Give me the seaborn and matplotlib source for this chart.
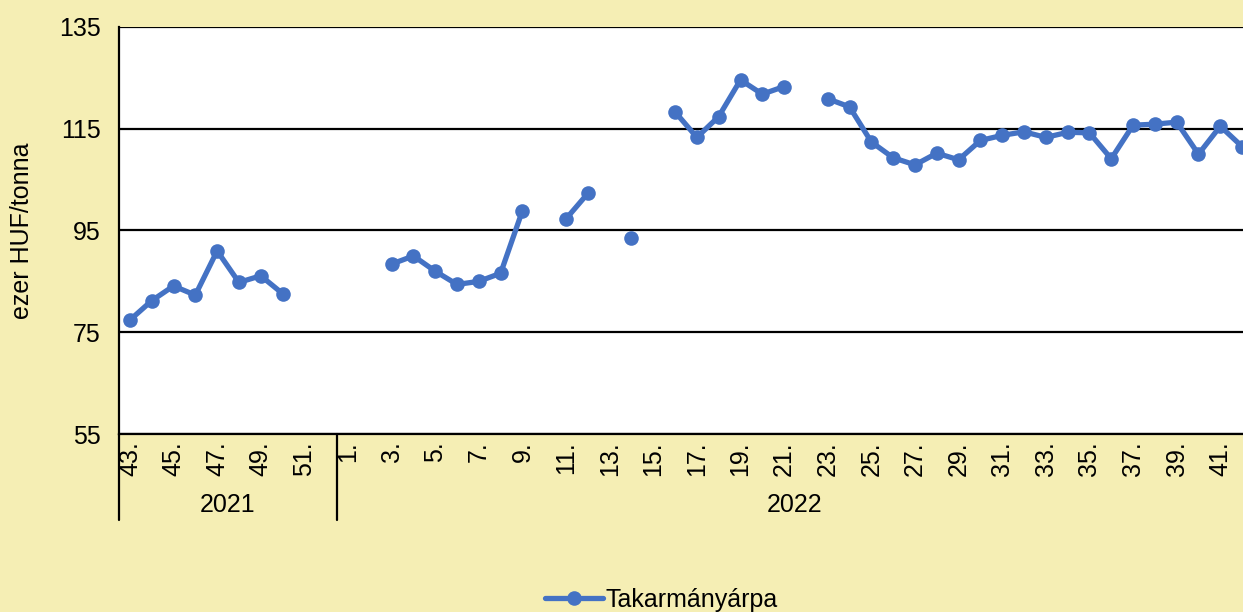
"""Takarmányárpa weekly price chart, 2021/43 - 2022/42."""
import matplotlib
matplotlib.use("Agg")
import matplotlib.pyplot as plt
import matplotlib.transforms as mtransforms
from matplotlib.lines import Line2D
import pandas as pd
import seaborn as sns

years = [2021] * 10 + [2022] * 42
weeks = list(range(43, 53)) + list(range(1, 43))
# ezer HUF/tonna, None = no quote that week
prices = [77.4, 81.2, 84.1, 82.3, 91.0, 84.8, 86.1, 82.6, None, None,
          None, None, 88.4, 90.0, 87.0, 84.4, 85.0, 86.6, 98.9, None,
          97.3, 102.3, None, 93.5, None, 118.3, 113.3, 117.4, 124.6, 121.8,
          123.3, None, 120.9, 119.3, 112.4, 109.3, 107.9, 110.2, 108.9, 112.7,
          113.7, 114.4, 113.3, 114.3, 114.2, 109.1, 115.7, 115.9, 116.3, 110.0,
          115.5, 111.5]
series_name = "Takarmányárpa"
y_ticks = [55, 75, 95, 115, 135]

BG = "#F5EEB4"
BLUE = "#4472C4"

sns.set_style("white")
plt.rcParams["font.family"] = ["Liberation Sans", "DejaVu Sans"]
plt.rcParams["font.size"] = 18
for key in ["text.color", "axes.labelcolor", "xtick.color", "ytick.color"]:
    plt.rcParams[key] = "black"

df = pd.DataFrame({"year": years, "week": weeks, "price": prices})
df["pos"] = range(len(df))
# break the line wherever a week is missing
df["seg"] = df["price"].isna().cumsum()
valid = df.dropna(subset=["price"])

fig = plt.figure(figsize=(12.43, 6.12), dpi=100, facecolor=BG)
ax = fig.add_axes([119 / 1243, 1 - 434 / 612, (1253 - 119) / 1243, 407 / 612])
ax.set_facecolor("white")

sns.lineplot(data=valid, x="pos", y="price", units="seg", estimator=None,
             color=BLUE, lw=3.8, marker="o", markersize=10.5,
             markeredgewidth=0, legend=False, ax=ax)

ax.set_xlim(-0.5, len(df) - 0.5)
ax.set_ylim(y_ticks[0], y_ticks[-1])
ax.set_yticks(y_ticks)
ax.yaxis.grid(True, color="black", lw=1.6)
ax.set_axisbelow(True)

tick_df = df.iloc[::2]
ax.set_xticks(tick_df["pos"])
ax.set_xticklabels([f"{w}." for w in tick_df["week"]], rotation=90)
ax.tick_params(axis="x", length=0, pad=5)
ax.tick_params(axis="y", length=7, width=1.6, color="black", pad=6)

for side in ["top", "right"]:
    ax.spines[side].set_visible(False)
for side in ["left", "bottom"]:
    ax.spines[side].set_color("black")
    ax.spines[side].set_linewidth(1.6)

ax.set_xlabel("")
ax.set_ylabel("ezer HUF/tonna", labelpad=18)

# year groups under the week labels
trans = mtransforms.blended_transform_factory(ax.transData, ax.transAxes)
for yr, grp in df.groupby("year"):
    start, end = grp["pos"].min() - 0.5, grp["pos"].max() + 0.5
    ax.plot([start, start], [0, -0.211], color="black", lw=1.6,
            transform=trans, clip_on=False)
    ax.text((start + end) / 2, -0.175, str(yr), transform=trans,
            ha="center", va="center")

handle = Line2D([], [], color=BLUE, lw=3.8, marker="o", markersize=10.5,
                markeredgewidth=0)
fig.legend([handle], [series_name], loc="center left",
           bbox_to_anchor=(535 / 1243, 1 - 600 / 612), frameon=False,
           handlelength=2.3, handletextpad=0.1, borderaxespad=0)

fig.savefig("out.png", dpi=100, facecolor=BG)
